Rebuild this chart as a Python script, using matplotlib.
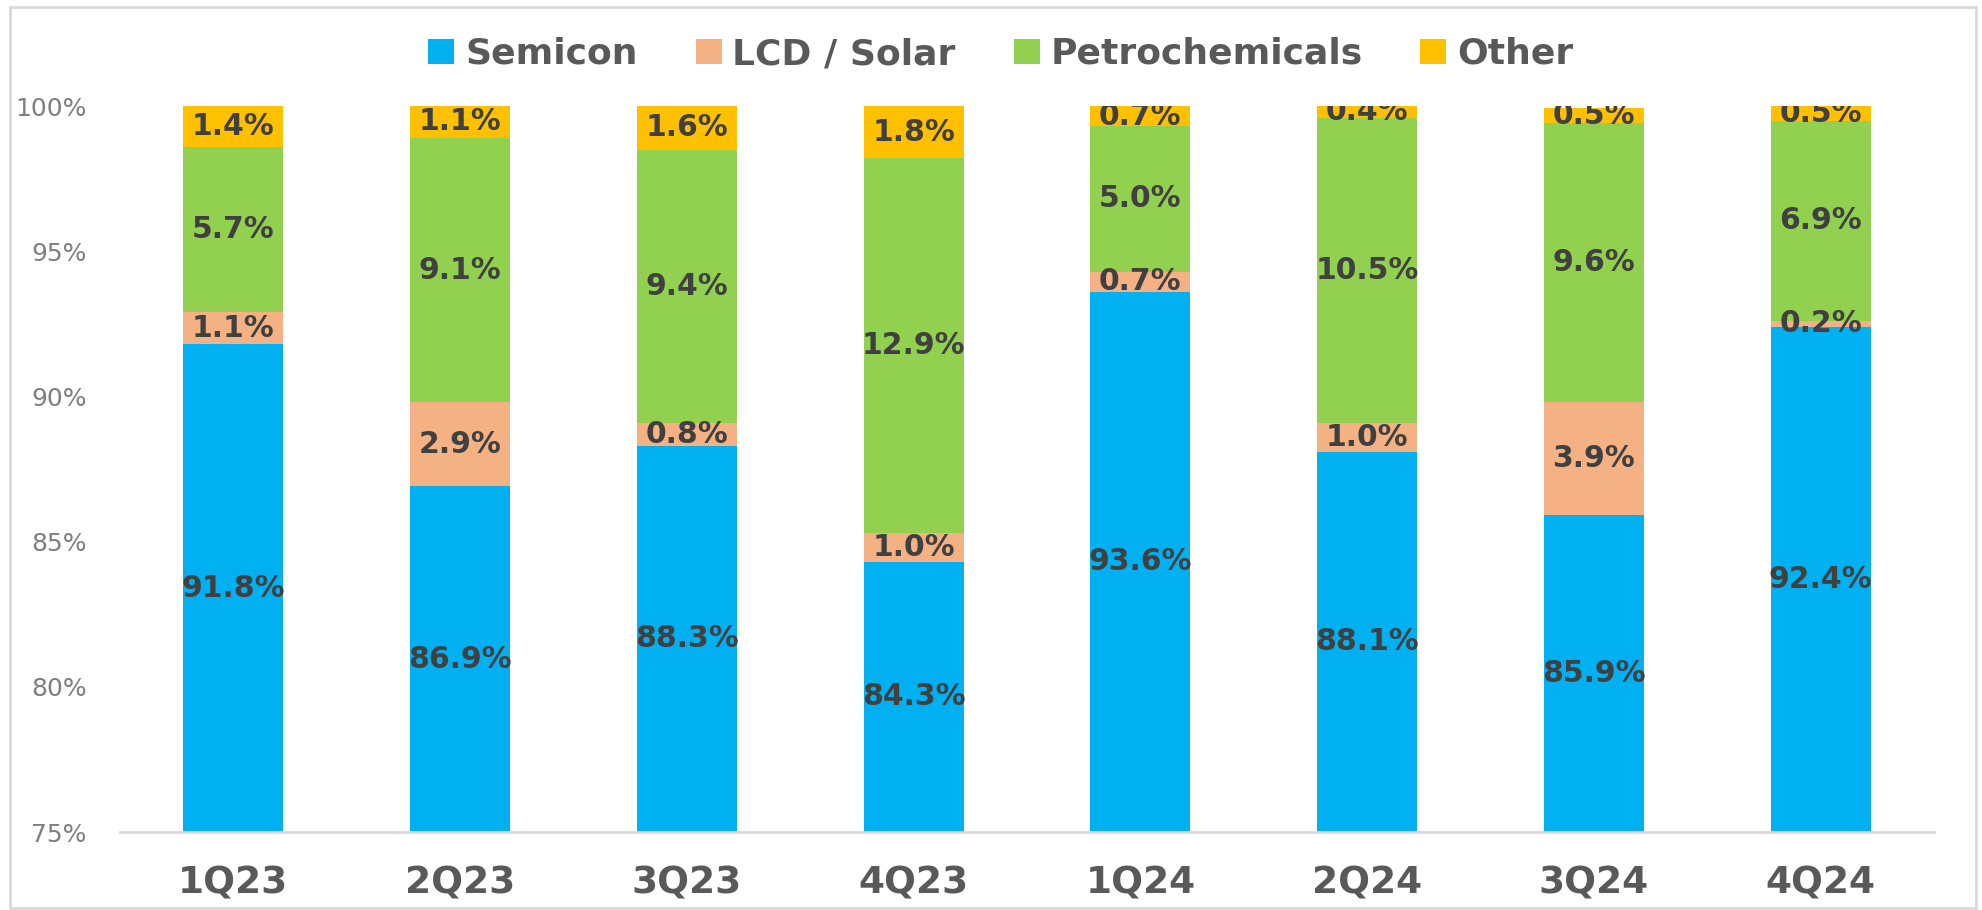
import matplotlib
matplotlib.use("Agg")
import matplotlib.pyplot as plt
from matplotlib.patches import Rectangle, Patch

categories = ["1Q23", "2Q23", "3Q23", "4Q23", "1Q24", "2Q24", "3Q24", "4Q24"]
series_names = ["Semicon", "LCD / Solar", "Petrochemicals", "Other"]
semicon = [91.8, 86.9, 88.3, 84.3, 93.6, 88.1, 85.9, 92.4]
lcd_solar = [1.1, 2.9, 0.8, 1.0, 0.7, 1.0, 3.9, 0.2]
petrochem = [5.7, 9.1, 9.4, 12.9, 5.0, 10.5, 9.6, 6.9]
other = [1.4, 1.1, 1.6, 1.8, 0.7, 0.4, 0.54, 0.5]
yticks = [75, 80, 85, 90, 95, 100]

colors = ["#00B0F0", "#F4B183", "#92D050", "#FFC000"]
text_dark = "#404040"
tick_grey = "#7F7F7F"

YMIN, YMAX = 75, 100

fig = plt.figure(figsize=(19.82, 9.10), dpi=100)
ax = fig.add_axes([120/1982, 1-832/910, (1934-120)/1982, (832-106)/910])

x = list(range(len(categories)))
bottom = [0.0]*len(categories)
for name, vals, col in zip(series_names, [semicon, lcd_solar, petrochem, other], colors):
    ax.bar(x, vals, bottom=bottom, width=0.44, color=col, edgecolor="none", label=name, zorder=2)
    for i, v in enumerate(vals):
        lo = max(bottom[i], YMIN)
        hi = min(bottom[i] + v, YMAX)
        yc = (lo + hi) / 2
        t = ax.text(i, yc, f"{v:.1f}%", ha="center", va="center", fontsize=21.5,
                    fontweight="bold", color=text_dark, zorder=3)
        t.set_clip_on(True)
    bottom = [b + v for b, v in zip(bottom, vals)]

ax.set_xlim(-0.5, len(categories) - 0.5)
ax.set_ylim(YMIN, YMAX)
ax.set_yticks(yticks)
ax.set_yticklabels([f"{t}%" for t in yticks], fontsize=18, color=tick_grey)
ax.set_xticks(x)
ax.set_xticklabels(categories, fontsize=27, fontweight="bold", color="#595959")
ax.tick_params(axis="y", length=0, pad=24)
ax.tick_params(axis="x", length=0, pad=24)
for s in ["top", "right", "left"]:
    ax.spines[s].set_visible(False)
ax.spines["bottom"].set_color("#D9D9D9")
ax.spines["bottom"].set_linewidth(2)

handles = [Patch(facecolor=c, edgecolor="none") for c in colors]
fig.legend(handles, series_names, loc="center", bbox_to_anchor=(1001/1982, 1-54/910),
           ncol=4, frameon=False, prop={"size": 26, "weight": "bold"},
           labelcolor="#595959", handlelength=0.72, handleheight=0.72,
           handletextpad=0.3, columnspacing=1.6)

fig.patches.append(Rectangle((10/1982, 2/910), (1976-10)/1982, (903-2)/910,
                             transform=fig.transFigure, fill=False,
                             edgecolor="#D9D9D9", linewidth=2))

fig.savefig("out.png", dpi=100, facecolor="white")
